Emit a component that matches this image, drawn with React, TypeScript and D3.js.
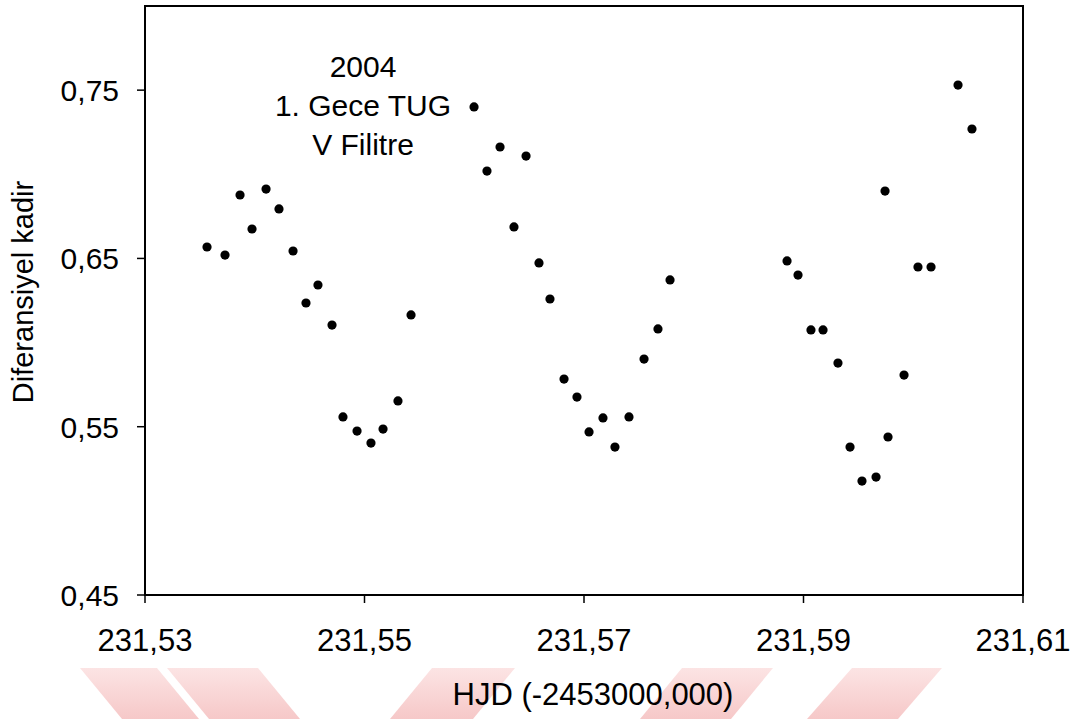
import React from "react";
import * as d3 from "d3";

const hjd: number[] = [
  231.53565, 231.53729, 231.53866, 231.53975, 231.54103, 231.54221, 231.54349, 231.54467,
  231.54576, 231.54704, 231.54804, 231.54932, 231.55059, 231.55169, 231.55305, 231.55424,
  231.55998, 231.56116, 231.56235, 231.56362, 231.56472, 231.5659, 231.5669, 231.56818,
  231.56936, 231.57046, 231.57173, 231.57282, 231.5741, 231.57547, 231.57674, 231.57784,
  231.5885, 231.5895, 231.59068, 231.59178, 231.59314, 231.59424, 231.59533, 231.59661,
  231.59743, 231.5977, 231.59916, 231.60043, 231.60162, 231.60408, 231.60535,
];
const mag: number[] = [
  0.6568, 0.652, 0.6877, 0.6675, 0.6912, 0.6794, 0.6544, 0.6235,
  0.6342, 0.6104, 0.5558, 0.5474, 0.5403, 0.5486, 0.5653, 0.6164,
  0.74, 0.7019, 0.7162, 0.6687, 0.7108, 0.6473, 0.6259, 0.5783,
  0.5676, 0.5469, 0.5552, 0.5379, 0.5558, 0.5902, 0.6081, 0.6372,
  0.6485, 0.6401, 0.6075, 0.6075, 0.5878, 0.5379, 0.5177, 0.5201,
  0.69, 0.5439, 0.5807, 0.6449, 0.6449, 0.753, 0.7269,
];
const xTicks: number[] = [231.53, 231.55, 231.57, 231.59, 231.61];
const yTicks: number[] = [0.45, 0.55, 0.65, 0.75];
const annotation: string[] = ["2004", "1. Gece TUG", "V Filitre"];
const xTitle = "HJD (-2453000,000)";
const yTitle = "Diferansiyel kadir";

// decorative watermark chevrons: [topLeft, topRight, bottomRight, bottomLeft] x positions
const chevrons: number[][] = [
  [80, 157, 199, 122],
  [167, 258, 300, 209],
  [432, 515, 473, 390],
  [682, 773, 731, 640],
  [852, 942, 898, 807],
];

const W = 1086;
const H = 719;
const L = 145, R = 1023, T = 6, B = 595;

export default function App() {
  const x = d3.scaleLinear().domain([231.53, 231.61]).range([L, R]);
  const y = d3.scaleLinear().domain([0.45, 0.8]).range([B, T]);
  const fmtX = (v: number) => d3.format(".2f")(v).replace(".", ",");
  const fmtY = (v: number) => d3.format(".2f")(v).replace(".", ",");
  const font = "'Liberation Sans', Arial, sans-serif";
  const wmTop = 668, wmBot = 719;

  return (
    <svg
      width={W}
      height={H}
      style={{ position: "absolute", left: 0, top: 0, background: "#fff" }}
      fontFamily={font}
    >
      <defs>
        <linearGradient id="wmGrad" x1="0" y1="0" x2="0" y2="1">
          <stop offset="0%" stopColor="#fce4e4" />
          <stop offset="100%" stopColor="#f6c8c8" />
        </linearGradient>
      </defs>
      <rect x={0} y={0} width={W} height={H} fill="#fff" />
      {chevrons.map((c, i) => (
        <polygon
          key={"wm" + i}
          points={`${c[0]},${wmTop} ${c[1]},${wmTop} ${c[2]},${wmBot} ${c[3]},${wmBot}`}
          fill="url(#wmGrad)"
        />
      ))}
      {/* frame */}
      <rect x={L} y={T} width={R - L} height={B - T} fill="none" stroke="#000" strokeWidth={2} />
      {/* y ticks */}
      {yTicks.map((t) => (
        <g key={"yt" + t}>
          <line x1={L - 8} x2={L} y1={y(t)} y2={y(t)} stroke="#000" strokeWidth={1.5} />
          <text x={119} y={y(t) + 11} textAnchor="end" fontSize={30} fill="#000">
            {fmtY(t)}
          </text>
        </g>
      ))}
      {/* x ticks */}
      {xTicks.map((t) => (
        <g key={"xt" + t}>
          <line x1={x(t)} x2={x(t)} y1={B} y2={B + 8} stroke="#000" strokeWidth={1.5} />
          <text x={x(t)} y={651} textAnchor="middle" fontSize={31} fill="#000">
            {fmtX(t)}
          </text>
        </g>
      ))}
      {/* points */}
      {hjd.map((h, i) => (
        <circle key={"p" + i} cx={x(h)} cy={y(mag[i])} r={4.6} fill="#000" />
      ))}
      {/* annotation */}
      {annotation.map((s, i) => (
        <text key={"a" + i} x={363} y={77 + i * 39} textAnchor="middle" fontSize={30} fill="#000">
          {s}
        </text>
      ))}
      <text x={593} y={705} textAnchor="middle" fontSize={31} fill="#000">
        {xTitle}
      </text>
      <text
        transform={`translate(33,292) rotate(-90)`}
        textAnchor="middle"
        fontSize={29}
        fill="#000"
      >
        {yTitle}
      </text>
    </svg>
  );
}
